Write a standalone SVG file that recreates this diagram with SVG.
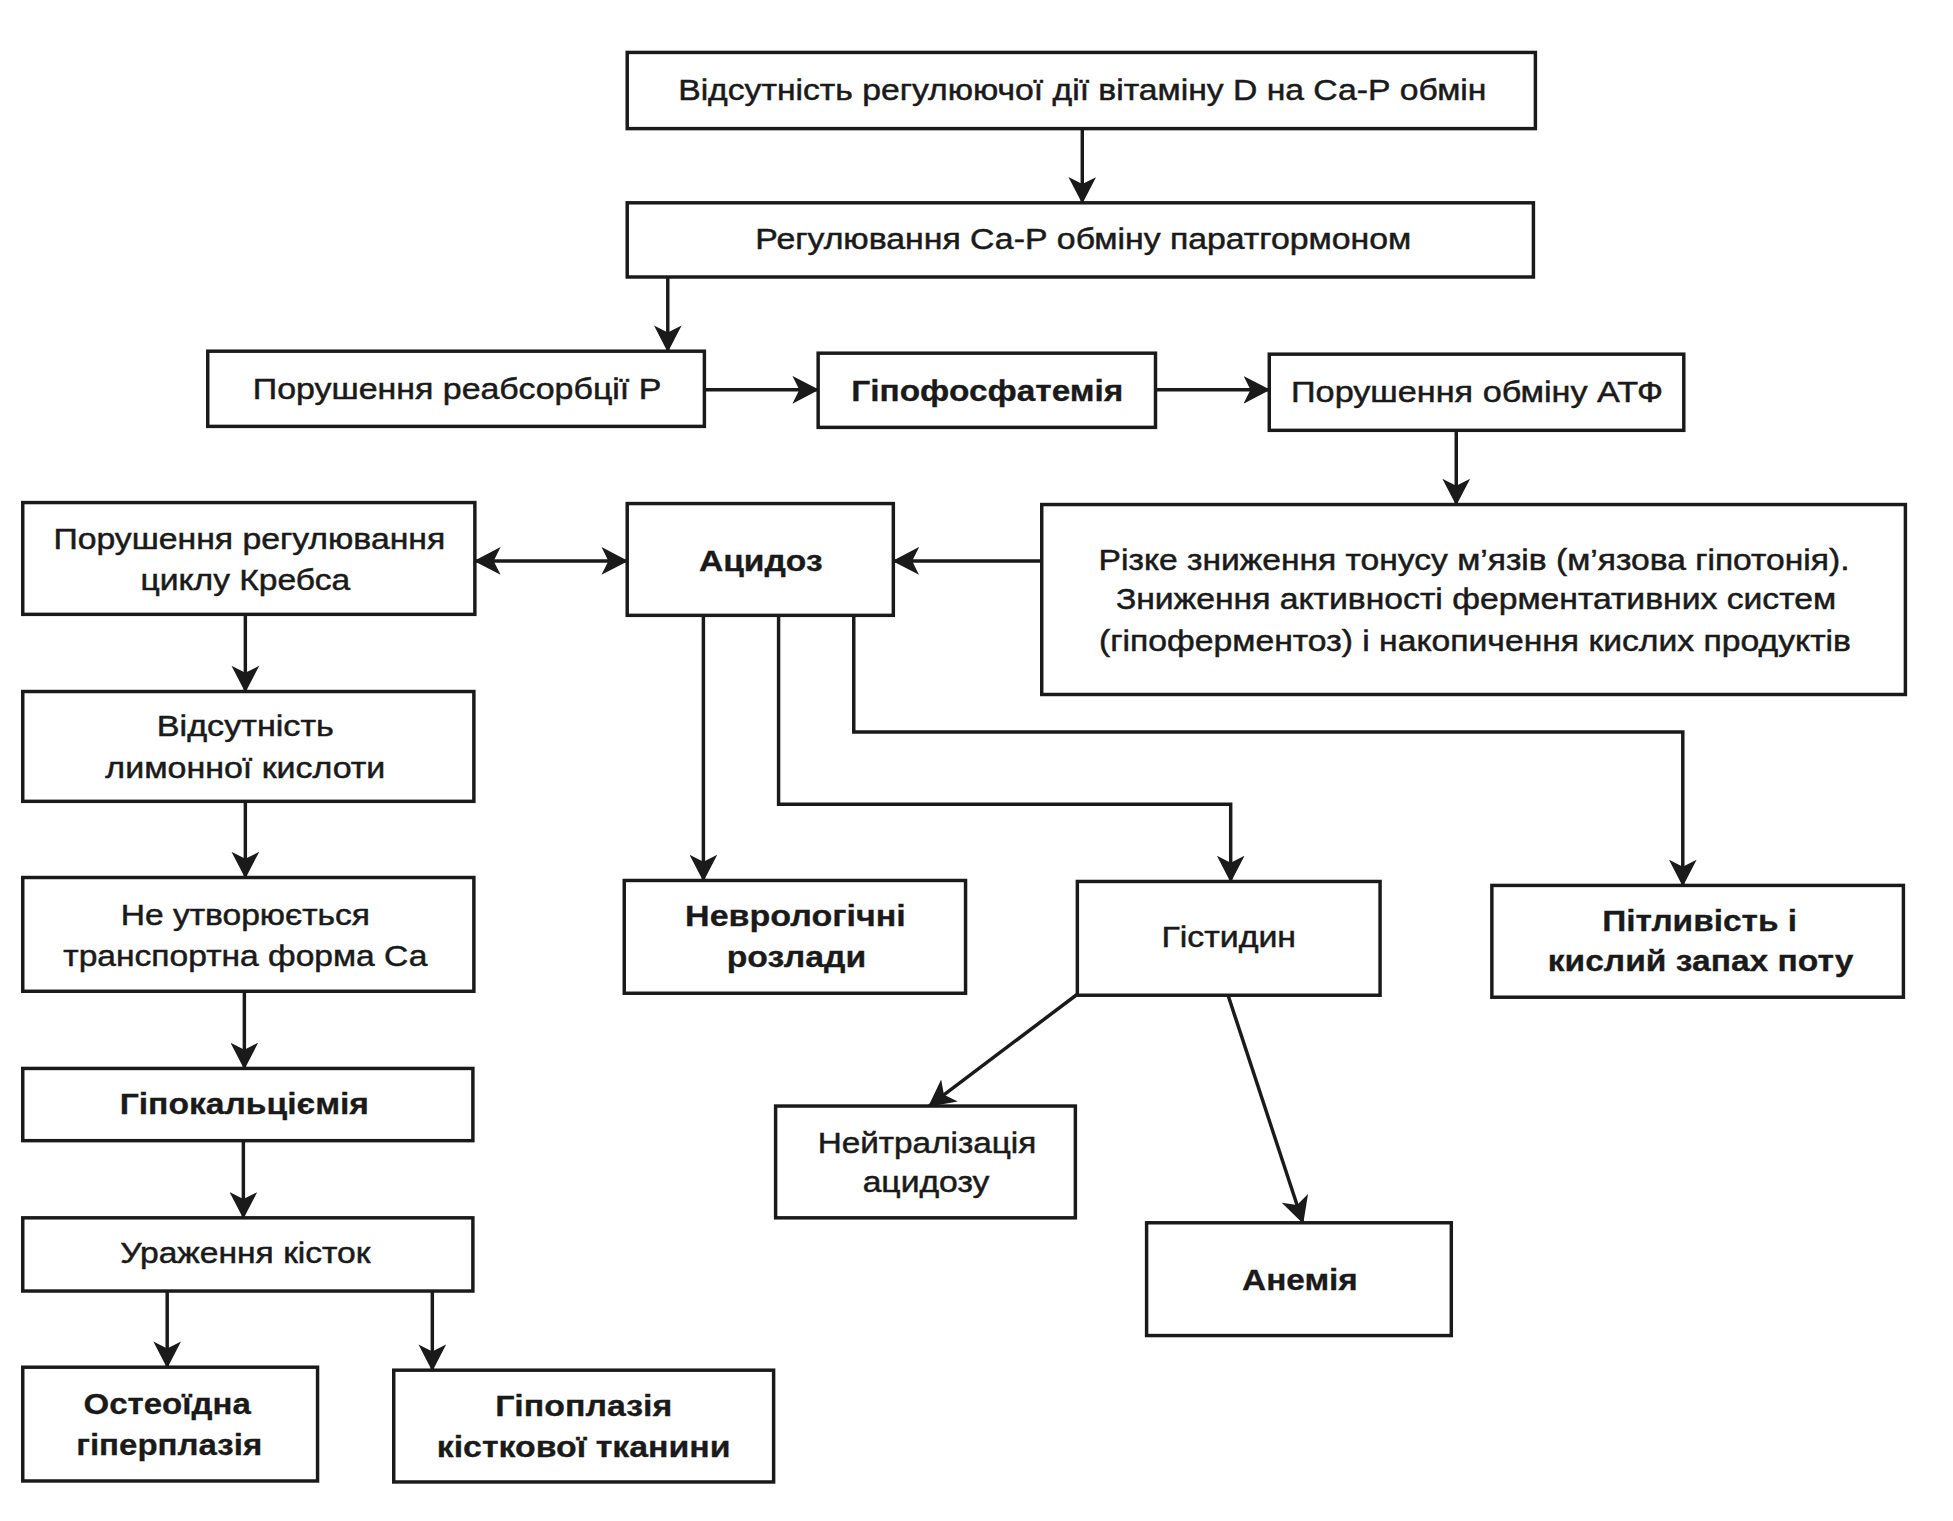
<svg xmlns="http://www.w3.org/2000/svg" width="1953" height="1521" viewBox="0 0 1953 1521">
<style>
.box{fill:#fff;stroke:#1a1a1a;stroke-width:3.5}
.t{font-family:"Liberation Sans",Arial,sans-serif;font-size:30px;fill:#1a1a1a;stroke:#1a1a1a;stroke-width:0.5;text-anchor:middle}
.b{font-weight:bold;stroke-width:0.3}
.c{fill:none;stroke:#1a1a1a;stroke-width:3.5}
</style>
<defs>
<marker id="ah" markerUnits="userSpaceOnUse" markerWidth="28" markerHeight="28" refX="26" refY="14" orient="auto-start-reverse" viewBox="0 0 28 28">
<path d="M0,0 L27,14 L0,28 L7,14 z" fill="#1a1a1a"/>
</marker>
</defs>
<rect width="1953" height="1521" fill="#fff"/>
<g transform="scale(0.9893)">
<g id="connectors">
<path class="c" d="M1094,130 V205" marker-end="url(#ah)"/>
<path class="c" d="M675,280 V355" marker-end="url(#ah)"/>
<path class="c" d="M712,394 H827" marker-end="url(#ah)"/>
<path class="c" d="M1168,394 H1283" marker-end="url(#ah)"/>
<path class="c" d="M1472,435 V510" marker-end="url(#ah)"/>
<path class="c" d="M1053,567 H903" marker-end="url(#ah)"/>
<path class="c" d="M480,567 H634" marker-start="url(#ah)" marker-end="url(#ah)"/>
<path class="c" d="M248,621 V699" marker-end="url(#ah)"/>
<path class="c" d="M248,810 V887" marker-end="url(#ah)"/>
<path class="c" d="M247,1002 V1080" marker-end="url(#ah)"/>
<path class="c" d="M246,1153 V1231" marker-end="url(#ah)"/>
<path class="c" d="M169,1305 V1382" marker-end="url(#ah)"/>
<path class="c" d="M437,1305 V1385" marker-end="url(#ah)"/>
<path class="c" d="M711,622 V890" marker-end="url(#ah)"/>
<path class="c" d="M787,622 V813 H1244 V891" marker-end="url(#ah)"/>
<path class="c" d="M863,622 V740 H1701 V895" marker-end="url(#ah)"/>
<path class="c" d="M1089,1005 L939,1118" marker-end="url(#ah)"/>
<path class="c" d="M1241,1005 L1317,1236" marker-end="url(#ah)"/>
</g>
<g id="n1"><rect class="box" x="634" y="53" width="918" height="77"/><text class="t" x="1094" y="101" textLength="817" lengthAdjust="spacingAndGlyphs">Відсутність регулюючої дії вітаміну D на Са-Р обмін</text></g>
<g id="n2"><rect class="box" x="634" y="205" width="916" height="75"/><text class="t" x="1095" y="252" textLength="663" lengthAdjust="spacingAndGlyphs">Регулювання Са-Р обміну паратгормоном</text></g>
<g id="n3"><rect class="box" x="210" y="355" width="502" height="76"/><text class="t" x="462" y="403" textLength="413" lengthAdjust="spacingAndGlyphs">Порушення реабсорбції Р</text></g>
<g id="n4"><rect class="box" x="827" y="357" width="341" height="75"/><text class="t b" x="998" y="405" textLength="275" lengthAdjust="spacingAndGlyphs">Гіпофосфатемія</text></g>
<g id="n5"><rect class="box" x="1283" y="358" width="419" height="77"/><text class="t" x="1493" y="406" textLength="376" lengthAdjust="spacingAndGlyphs">Порушення обміну АТФ</text></g>
<g id="n6"><rect class="box" x="1053" y="510" width="873" height="192"/>
<text class="t" x="1490" y="576" textLength="759" lengthAdjust="spacingAndGlyphs">Різке зниження тонусу м’язів (м’язова гіпотонія).</text>
<text class="t" x="1492" y="616" textLength="728" lengthAdjust="spacingAndGlyphs">Зниження активності ферментативних систем</text>
<text class="t" x="1491" y="658" textLength="760" lengthAdjust="spacingAndGlyphs">(гіпоферментоз) і накопичення кислих продуктів</text></g>
<g id="n7"><rect class="box" x="634" y="509" width="269" height="113"/><text class="t b" x="769" y="577" textLength="125" lengthAdjust="spacingAndGlyphs">Ацидоз</text></g>
<g id="n8"><rect class="box" x="23" y="508" width="457" height="113"/>
<text class="t" x="252" y="555" textLength="396" lengthAdjust="spacingAndGlyphs">Порушення регулювання</text>
<text class="t" x="248" y="596" textLength="212" lengthAdjust="spacingAndGlyphs">циклу Кребса</text></g>
<g id="n9"><rect class="box" x="23" y="699" width="456" height="111"/>
<text class="t" x="248" y="744" textLength="179" lengthAdjust="spacingAndGlyphs">Відсутність</text>
<text class="t" x="248" y="786" textLength="283" lengthAdjust="spacingAndGlyphs">лимонної кислоти</text></g>
<g id="n10"><rect class="box" x="23" y="887" width="456" height="115"/>
<text class="t" x="248" y="935" textLength="252" lengthAdjust="spacingAndGlyphs">Не утворюється</text>
<text class="t" x="248" y="976" textLength="368" lengthAdjust="spacingAndGlyphs">транспортна форма Са</text></g>
<g id="n11"><rect class="box" x="23" y="1080" width="455" height="73"/><text class="t b" x="247" y="1126" textLength="252" lengthAdjust="spacingAndGlyphs">Гіпокальціємія</text></g>
<g id="n12"><rect class="box" x="23" y="1231" width="455" height="74"/><text class="t" x="248" y="1277" textLength="253" lengthAdjust="spacingAndGlyphs">Ураження кісток</text></g>
<g id="n13"><rect class="box" x="23" y="1382" width="298" height="115"/>
<text class="t b" x="169" y="1429" textLength="169" lengthAdjust="spacingAndGlyphs">Остеоїдна</text>
<text class="t b" x="171" y="1471" textLength="188" lengthAdjust="spacingAndGlyphs">гіперплазія</text></g>
<g id="n14"><rect class="box" x="398" y="1385" width="384" height="113"/>
<text class="t b" x="590" y="1431" textLength="179" lengthAdjust="spacingAndGlyphs">Гіпоплазія</text>
<text class="t b" x="590" y="1473" textLength="297" lengthAdjust="spacingAndGlyphs">кісткової тканини</text></g>
<g id="n15"><rect class="box" x="631" y="890" width="345" height="114"/>
<text class="t b" x="804" y="936" textLength="223" lengthAdjust="spacingAndGlyphs">Неврологічні</text>
<text class="t b" x="805" y="977" textLength="141" lengthAdjust="spacingAndGlyphs">розлади</text></g>
<g id="n16"><rect class="box" x="1089" y="891" width="306" height="115"/><text class="t" x="1242" y="957" textLength="136" lengthAdjust="spacingAndGlyphs">Гістидин</text></g>
<g id="n17"><rect class="box" x="1508" y="895" width="416" height="113"/>
<text class="t b" x="1718" y="941" textLength="197" lengthAdjust="spacingAndGlyphs">Пітливість і</text>
<text class="t b" x="1719" y="981" textLength="309" lengthAdjust="spacingAndGlyphs">кислий запах поту</text></g>
<g id="n18"><rect class="box" x="784" y="1118" width="303" height="113"/>
<text class="t" x="937" y="1165" textLength="221" lengthAdjust="spacingAndGlyphs">Нейтралізація</text>
<text class="t" x="936" y="1205" textLength="128" lengthAdjust="spacingAndGlyphs">ацидозу</text></g>
<g id="n19"><rect class="box" x="1159" y="1236" width="308" height="114"/><text class="t b" x="1314" y="1304" textLength="117" lengthAdjust="spacingAndGlyphs">Анемія</text></g>
</g>
</svg>
